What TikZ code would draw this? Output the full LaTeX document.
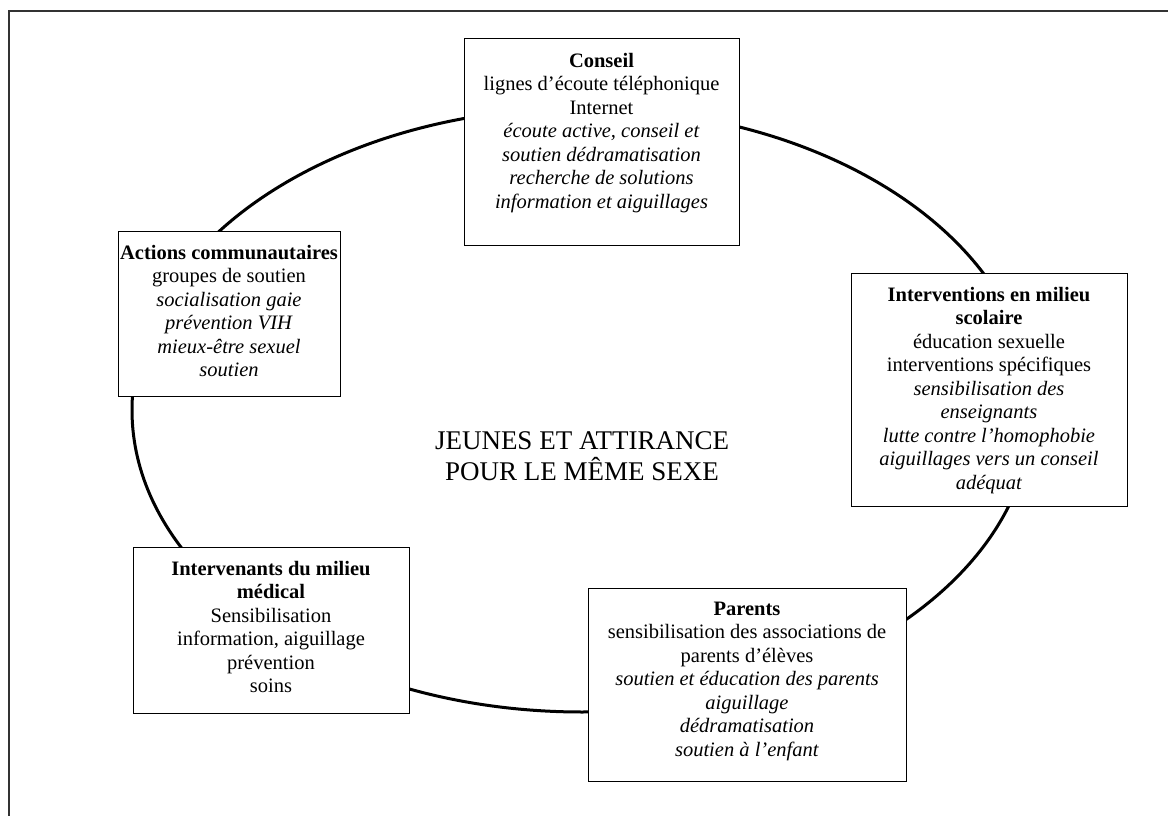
\documentclass[tikz,border=0pt]{standalone}
\usepackage{fontspec}
\setmainfont{Liberation Serif}

% text block of a box: width, height, lines (top aligned)
\newcommand{\cadre}[3]{\parbox[c][#2][t]{#1}{\centering #3}}

\begin{document}
\begin{tikzpicture}[x=1pt,y=-1pt,
  bloc/.style={draw,line width=1pt,fill=white,inner xsep=0pt,inner ysep=14pt,
    font=\fontsize{20.5}{23.5}\selectfont}]
  \useasboundingbox (0,0) rectangle (1168,816);
  % Frame (open at right and bottom)
  \draw[line width=2pt,black!80] (8.5,816) -- (8.5,11.5) -- (1168,11.5);
  % Ellipse behind the boxes
  \draw[line width=3pt] (582,410) ellipse [x radius=450,y radius=302];
  % Centre text
  \node[align=center,font=\fontsize{27}{31}\selectfont] (centre) at (582,456)
    {JEUNES ET ATTIRANCE\\POUR LE MÊME SEXE};
  % Boxes
  \node[bloc] (conseil) at (601.5,142) {\cadre{275pt}{178pt}{%
    \textbf{Conseil}\\
    lignes d’écoute téléphonique\\
    Internet\\
    \textit{écoute active, conseil et}\\
    \textit{soutien dédramatisation}\\
    \textit{recherche de solutions}\\
    \textit{information et aiguillages}}};
  \node[bloc] (actions) at (229,313.5) {\cadre{222pt}{137pt}{%
    \textbf{Actions communautaires}\\
    groupes de soutien\\
    \textit{socialisation gaie}\\
    \textit{prévention VIH}\\
    \textit{mieux-être sexuel}\\
    \textit{soutien}}};
  \node[bloc] (scolaire) at (989,389.5) {\cadre{276pt}{205pt}{%
    \textbf{Interventions en milieu}\\
    \textbf{scolaire}\\
    éducation sexuelle\\
    interventions spécifiques\\
    \textit{sensibilisation des}\\
    \textit{enseignants}\\
    \textit{lutte contre l’homophobie}\\
    \textit{aiguillages vers un conseil}\\
    \textit{adéquat}}};
  \node[bloc] (medical) at (271,630) {\cadre{276pt}{138pt}{%
    \textbf{Intervenants du milieu}\\
    \textbf{médical}\\
    Sensibilisation\\
    information, aiguillage\\
    prévention\\
    soins}};
  \node[bloc] (parents) at (747,684.5) {\cadre{318pt}{165pt}{%
    \textbf{Parents}\\
    sensibilisation des associations de\\
    parents d’élèves\\
    \textit{soutien et éducation des parents}\\
    \textit{aiguillage}\\
    \textit{dédramatisation}\\
    \textit{soutien à l’enfant}}};
\end{tikzpicture}
\end{document}
